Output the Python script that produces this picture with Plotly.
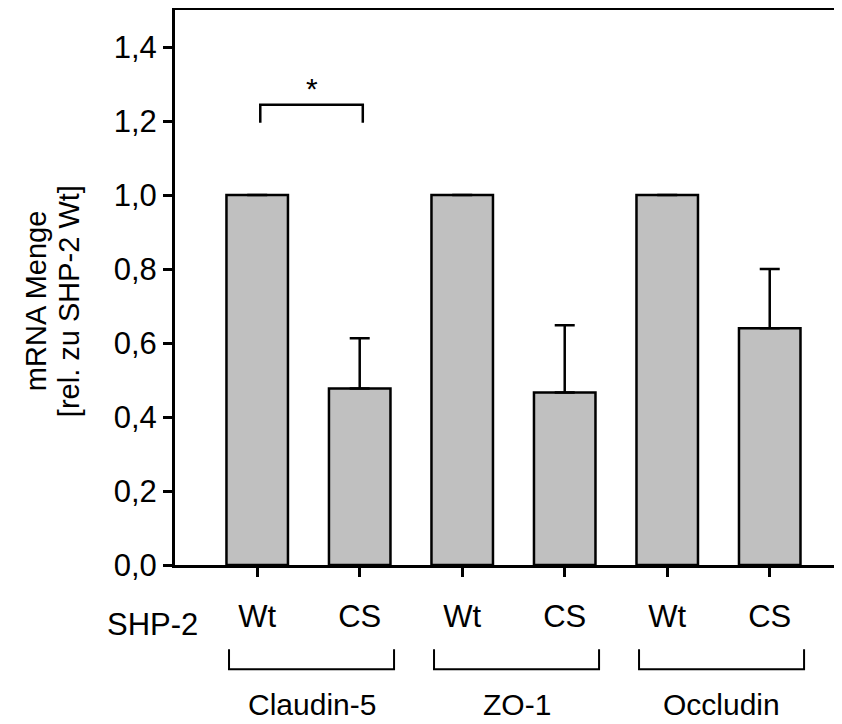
import plotly.graph_objects as go

# ---- data ----
conditions = ["Wt", "CS", "Wt", "CS", "Wt", "CS"]
genes = ["Claudin-5", "ZO-1", "Occludin"]
mrna_values = [1.0, 0.477, 1.0, 0.466, 1.0, 0.640]
error_plus = [0.0, 0.136, 0.0, 0.182, 0.0, 0.160]
y_tick_vals = [0.0, 0.2, 0.4, 0.6, 0.8, 1.0, 1.2, 1.4]
y_tick_text = ["0,0", "0,2", "0,4", "0,6", "0,8", "1,0", "1,2", "1,4"]
row_label = "SHP-2"
y_title_lines = ["mRNA Menge", "[rel. zu SHP-2 Wt]"]
sig_label = "*"
sig_pair = [0, 1]
sig_height = 1.244

FONT = "Liberation Sans, Arial, sans-serif"
xpos = list(range(len(conditions)))

fig = go.Figure()
fig.add_trace(go.Bar(
    x=xpos, y=mrna_values, width=0.6,
    marker=dict(color="#c0c0c0", line=dict(color="black", width=2.5)),
    error_y=dict(type="data", symmetric=False, array=error_plus,
                 arrayminus=[0] * len(error_plus),
                 color="black", thickness=2.5, width=10),
    showlegend=False, hoverinfo="skip",
))

shapes = []
annotations = []
# significance bracket
x0s, x1s = sig_pair[0] + 0.03, sig_pair[1] + 0.03
shapes.append(dict(type="path", xref="x", yref="y",
                   path=f"M {x0s},{sig_height-0.049} L {x0s},{sig_height} L {x1s},{sig_height} L {x1s},{sig_height-0.049}",
                   line=dict(color="black", width=2.5)))
annotations.append(dict(x=(x0s + x1s) / 2, y=sig_height + 0.043, xref="x", yref="y",
                        text=sig_label, showarrow=False, font=dict(size=30, color="black", family=FONT)))

# group brackets under the axis
for gi, g in enumerate(genes):
    a = 2 * gi - 0.275
    b = 2 * gi + 1 + 0.335
    shapes.append(dict(type="path", xref="x", yref="paper",
                       path=f"M {a},-0.152 L {a},-0.188 L {b},-0.188 L {b},-0.152",
                       line=dict(color="black", width=2)))
    annotations.append(dict(x=(a + b) / 2, y=-0.252, xref="x", yref="paper",
                            text=g, showarrow=False, yanchor="middle",
                            font=dict(size=30, color="black", family=FONT)))

annotations.append(dict(x=0, y=-0.108, xref="paper", yref="paper", xshift=-23,
                        text=row_label, showarrow=False, xanchor="center", yanchor="middle",
                        font=dict(size=31, color="black", family=FONT)))

# y title (two lines)
for line, xs in zip(y_title_lines, [-139, -106]):
    annotations.append(dict(x=0, y=0.4754, xref="paper", yref="paper", xshift=xs,
                            text=line, textangle=-90, showarrow=False,
                            xanchor="center", yanchor="middle",
                            font=dict(size=29, color="black", family=FONT)))

fig.update_layout(
    width=834, height=716,
    margin=dict(l=167, r=0, t=2, b=159),
    paper_bgcolor="white", plot_bgcolor="white",
    font=dict(family=FONT, color="black", size=31),
    shapes=shapes, annotations=annotations,
    xaxis=dict(range=[-0.802, 5.705], tickvals=xpos, ticktext=conditions,
               showline=True, linecolor="black", linewidth=3, mirror=True,
               ticks="outside", ticklen=9, tickwidth=2.5, tickcolor="black",
               ticklabelstandoff=13, showgrid=False, zeroline=False,
               tickfont=dict(size=31, family=FONT, color="black")),
    yaxis=dict(range=[0, 1.5], tickvals=y_tick_vals, ticktext=y_tick_text,
               showline=True, linecolor="black", linewidth=3,
               ticks="outside", ticklen=9, tickwidth=2.5, tickcolor="black",
               ticklabelstandoff=0, showgrid=False, zeroline=False,
               tickfont=dict(size=31, family=FONT, color="black")),
)

fig.write_html("out.html")
